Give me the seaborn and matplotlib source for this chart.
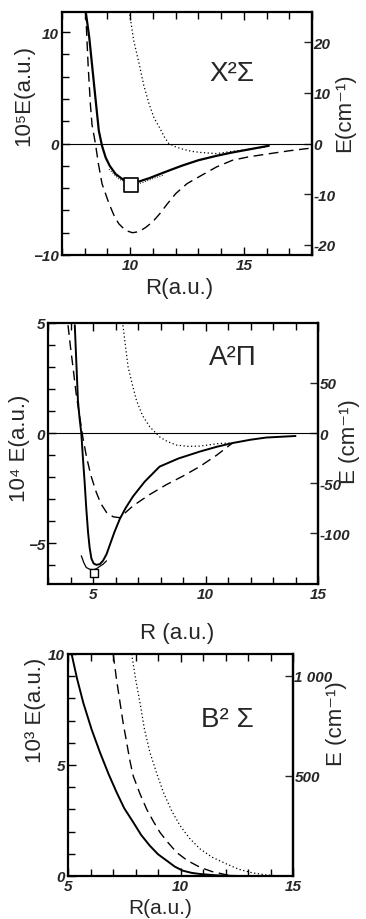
import matplotlib
matplotlib.use("Agg")
import matplotlib.pyplot as plt
import seaborn as sns
import numpy as np
import pandas as pd

# ---- X2Sigma panel (10^-5 a.u.) ----
x_solid_r = [8.04, 8.2, 8.32, 8.45, 8.62, 8.76, 8.92, 9.1, 9.36, 9.7, 9.96, 10.4, 10.85, 11.3,
             11.8, 12.3, 13.0, 13.8, 14.5, 15.3, 16.1]
x_solid_e = [11.9, 9.5, 7.1, 4.5, 1.15, -0.2, -1.25, -2.0, -2.74, -3.25, -3.4, -3.4, -3.1, -2.74,
             -2.35, -1.97, -1.5, -1.1, -0.8, -0.5, -0.2]
x_thin_r = [9.07, 9.5, 10.0, 10.5, 11.0, 11.5]
x_thin_e = [-2.3, -3.2, -3.6, -3.55, -3.15, -2.8]
x_dash_r = [8.04, 8.15, 8.25, 8.32, 8.47, 8.6, 8.76, 9.07, 9.3, 9.5, 9.8, 10.1, 10.4, 10.7, 11.0,
            11.3, 11.6, 12.0, 12.5, 13.1, 13.8, 14.5, 15.2, 16.0, 17.0, 18.0]
x_dash_e = [11.9, 7.0, 3.5, 1.7, 0.0, -1.8, -3.6, -5.4, -6.5, -7.2, -7.8, -8.0, -7.9, -7.5, -7.0,
            -6.3, -5.5, -4.5, -3.6, -2.9, -2.1, -1.5, -1.2, -0.95, -0.65, -0.4]
x_dot_r = [9.96, 10.15, 10.4, 10.6, 10.84, 11.05, 11.3, 11.5, 11.7, 12.0, 12.3, 12.7, 13.1, 13.8,
           14.5, 15.3, 16.0]
x_dot_e = [11.9, 9.3, 7.1, 5.2, 3.5, 2.3, 1.4, 0.6, 0.0, -0.3, -0.5, -0.7, -0.8, -0.9,
           -0.7, -0.5, -0.3]
x_sq_r = [10.03]
x_sq_e = [-3.7]

# ---- A2Pi panel (10^-4 a.u.) ----
a_solid_r = [4.19, 4.26, 4.33, 4.4, 4.48, 4.55, 4.63, 4.7, 4.78, 4.85, 4.93, 5.03, 5.15, 5.3,
             5.44, 5.6, 5.74, 5.95, 6.19, 6.45, 6.78, 7.3, 7.96, 8.8, 9.74, 10.5, 11.2, 12.0,
             12.7, 14.0]
a_solid_e = [4.9, 3.2, 1.49, 0.7, 0.0, -1.1, -2.26, -3.4, -4.5, -5.2, -5.7, -5.92, -5.98, -5.95,
             -5.8, -5.5, -5.1, -4.5, -3.9, -3.4, -2.87, -2.2, -1.52, -1.15, -0.84, -0.62, -0.45,
             -0.3, -0.2, -0.13]
a_thin_r = [4.48, 4.6, 4.7, 4.85, 5.0, 5.15, 5.3, 5.45, 5.6]
a_thin_e = [-5.57, -5.9, -6.1, -6.18, -6.2, -6.16, -6.05, -5.95, -5.8]
a_dash_r = [3.89, 4.0, 4.11, 4.25, 4.41, 4.55, 4.71, 4.9, 5.15, 5.35, 5.6, 5.9, 6.19, 6.45,
            6.78, 7.5, 8.26, 9.0, 9.74, 10.5, 11.2]
a_dash_e = [4.9, 3.9, 3.0, 1.8, 0.73, -0.2, -1.07, -1.9, -2.7, -3.2, -3.6, -3.8, -3.84, -3.6,
            -3.3, -2.8, -2.34, -1.95, -1.52, -1.0, -0.45]
a_dot_r = [6.33, 6.45, 6.56, 6.75, 6.93, 7.2, 7.52, 7.96, 8.3, 8.7, 9.2, 9.74, 10.6, 11.2]
a_dot_e = [4.9, 3.9, 3.0, 2.2, 1.49, 0.8, 0.29, -0.17, -0.38, -0.54, -0.6, -0.59, -0.47, -0.45]
a_sq_r = [5.03]
a_sq_e = [-6.35]

# ---- B2Sigma panel (10^-3 a.u.) ----
b_solid_r = [5.16, 5.4, 5.68, 6.05, 6.42, 6.8, 7.16, 7.5, 7.9, 8.25, 8.64, 9.0, 9.39, 9.75,
             10.1, 10.5, 10.87, 11.6, 12.5]
b_solid_e = [10.0, 8.9, 7.8, 6.6, 5.57, 4.6, 3.77, 3.05, 2.42, 1.85, 1.36, 0.98, 0.69, 0.42,
             0.24, 0.14, 0.09, 0.03, 0.0]
b_dash_r = [7.01, 7.15, 7.31, 7.45, 7.61, 7.75, 7.9, 8.2, 8.5, 8.8, 9.09, 9.45, 9.83, 10.3,
            10.87, 11.4, 12.05, 12.6]
b_dash_e = [10.0, 8.9, 7.83, 6.9, 6.0, 5.2, 4.5, 3.7, 3.0, 2.45, 1.96, 1.5, 1.06, 0.7,
            0.39, 0.2, 0.05, 0.0]
b_dot_r = [7.83, 8.0, 8.2, 8.4, 8.64, 8.95, 9.24, 9.6, 9.98, 10.4, 10.87, 11.4, 12.05, 12.6,
           13.2, 13.8, 14.4]
b_dot_e = [10.0, 8.9, 7.8, 6.6, 5.57, 4.6, 3.77, 2.95, 2.27, 1.7, 1.22, 0.85, 0.54, 0.3,
           0.14, 0.05, 0.0]

sns.set_theme(style="ticks")
plt.rcParams['font.family'] = ['Liberation Sans', 'DejaVu Sans']

fig = plt.figure(figsize=(3.66, 9.2), dpi=100)
W, H = 366, 920


def make_ax(l, r, t, b):
    return fig.add_axes([l / W, 1 - b / H, (r - l) / W, (b - t) / H])


def curve(ax, r, e, **kw):
    df = pd.DataFrame({"R": r, "E": e})
    sns.lineplot(data=df, x="R", y="E", ax=ax, estimator=None, color="black",
                 legend=False, **kw)


def style(ax, xlim, ylim, xmaj, xmin, ymaj, ymin, factor, rticks, rlabels):
    ax.set_xlim(*xlim)
    ax.set_ylim(*ylim)
    ax.set_xticks(xmaj)
    ax.set_xticks(xmin, minor=True)
    ax.set_yticks(ymaj)
    ax.set_yticks(ymin, minor=True)
    ax.tick_params(which="both", direction="in", top=True, right=False,
                   labelsize=11, width=1.0, color="black", pad=2)
    ax.tick_params(which="major", length=6)
    ax.tick_params(which="minor", length=5)
    for lab in ax.get_xticklabels() + ax.get_yticklabels():
        lab.set_fontweight("bold")
        lab.set_fontstyle("italic")
    for sp in ax.spines.values():
        sp.set_linewidth(1.6)
        sp.set_color("black")
    sec = ax.secondary_yaxis("right", functions=(lambda v: v * factor, lambda v: v / factor))
    sec.set_yticks(rticks)
    sec.set_yticklabels(rlabels)
    sec.tick_params(direction="in", length=6, width=1.0, labelsize=11, pad=1)
    for lab in sec.get_yticklabels():
        lab.set_fontweight("bold")
        lab.set_fontstyle("italic")
    sec.spines["right"].set_linewidth(1.6)
    return sec


# Panel 1
ax1 = make_ax(62, 312, 13, 256)
ax1.axhline(0, color="black", linewidth=0.8)
curve(ax1, x_thin_r, x_thin_e, linewidth=0.7, linestyle=":")
curve(ax1, x_solid_r, x_solid_e, linewidth=1.6)
curve(ax1, x_dash_r, x_dash_e, linewidth=1.0, linestyle=(0, (7, 4)))
curve(ax1, x_dot_r, x_dot_e, linewidth=0.9, linestyle=(0, (1, 2)))
sns.scatterplot(x=x_sq_r, y=x_sq_e, ax=ax1, marker="s", s=90, facecolor="white",
                edgecolor="black", linewidth=1.2, zorder=5)
style(ax1, (7, 18), (-9.8, 11.8), [10, 15], np.arange(7, 19, 1),
      [-10, 0, 10], np.arange(-10, 12, 2), 2.2,
      [-20, -10, 0, 10, 20], ["-20", "-10", "0", "10", "20"])
ax1.set_xlabel("R(a.u.)", fontsize=16)
ax1.xaxis.set_label_coords(0.47, -0.09)
ax1.set_ylabel("10⁵E(a.u.)", fontsize=16)
ax1.yaxis.set_label_coords(-0.11, 0.66)
ax1.text(1.13, 0.59, "E(cm⁻¹)", transform=ax1.transAxes, fontsize=16,
         rotation=90, ha="center", va="center")
ax1.text(0.68, 0.75, "X²Σ", transform=ax1.transAxes, fontsize=20,
         ha="center", va="center")

# Panel 2
ax2 = make_ax(48, 318, 324, 585)
ax2.axhline(0, color="black", linewidth=0.8)
curve(ax2, a_thin_r, a_thin_e, linewidth=0.9)
curve(ax2, a_solid_r, a_solid_e, linewidth=1.4)
curve(ax2, a_dash_r, a_dash_e, linewidth=1.0, linestyle=(0, (7, 4)))
curve(ax2, a_dot_r, a_dot_e, linewidth=0.9, linestyle=(0, (1, 2)))
sns.scatterplot(x=a_sq_r, y=a_sq_e, ax=ax2, marker="s", s=30, facecolor="white",
                edgecolor="black", linewidth=1.0, zorder=5)
style(ax2, (3, 15), (-6.85, 5), [5, 10, 15], np.arange(3, 16, 1),
      [-5, 0, 5], np.arange(-6, 6, 1), 21.95,
      [-100, -50, 0, 50], ["-100", "-50", "0", "50"])
ax2.set_xlabel("R (a.u.)", fontsize=16)
ax2.xaxis.set_label_coords(0.48, -0.145)
ax2.set_ylabel("10⁴ E(a.u.)", fontsize=16)
ax2.yaxis.set_label_coords(-0.065, 0.525)
ax2.text(1.115, 0.55, "E (cm⁻¹)", transform=ax2.transAxes, fontsize=16,
         rotation=90, ha="center", va="center")
ax2.text(0.685, 0.87, "A²Π", transform=ax2.transAxes, fontsize=20,
         ha="center", va="center")

# Panel 3
ax3 = make_ax(68, 293, 655, 877)
curve(ax3, b_solid_r, b_solid_e, linewidth=1.4)
curve(ax3, b_dash_r, b_dash_e, linewidth=1.0, linestyle=(0, (7, 4)))
curve(ax3, b_dot_r, b_dot_e, linewidth=0.9, linestyle=(0, (1, 2)))
style(ax3, (5, 15), (0, 10), [5, 10, 15], np.arange(5, 16, 1),
      [0, 5, 10], np.arange(0, 11, 1), 111,
      [500, 1000], ["500", "1 000"])
ax3.set_xlabel("R(a.u.)", fontsize=15)
ax3.xaxis.set_label_coords(0.41, -0.1)
ax3.set_ylabel("10³ E(a.u.)", fontsize=16)
ax3.yaxis.set_label_coords(-0.1, 0.75)
ax3.text(1.195, 0.69, "E (cm⁻¹)", transform=ax3.transAxes, fontsize=16,
         rotation=90, ha="center", va="center")
ax3.text(0.707, 0.707, "B² Σ", transform=ax3.transAxes, fontsize=20,
         ha="center", va="center")

fig.savefig("out.png", dpi=100, facecolor="white")
